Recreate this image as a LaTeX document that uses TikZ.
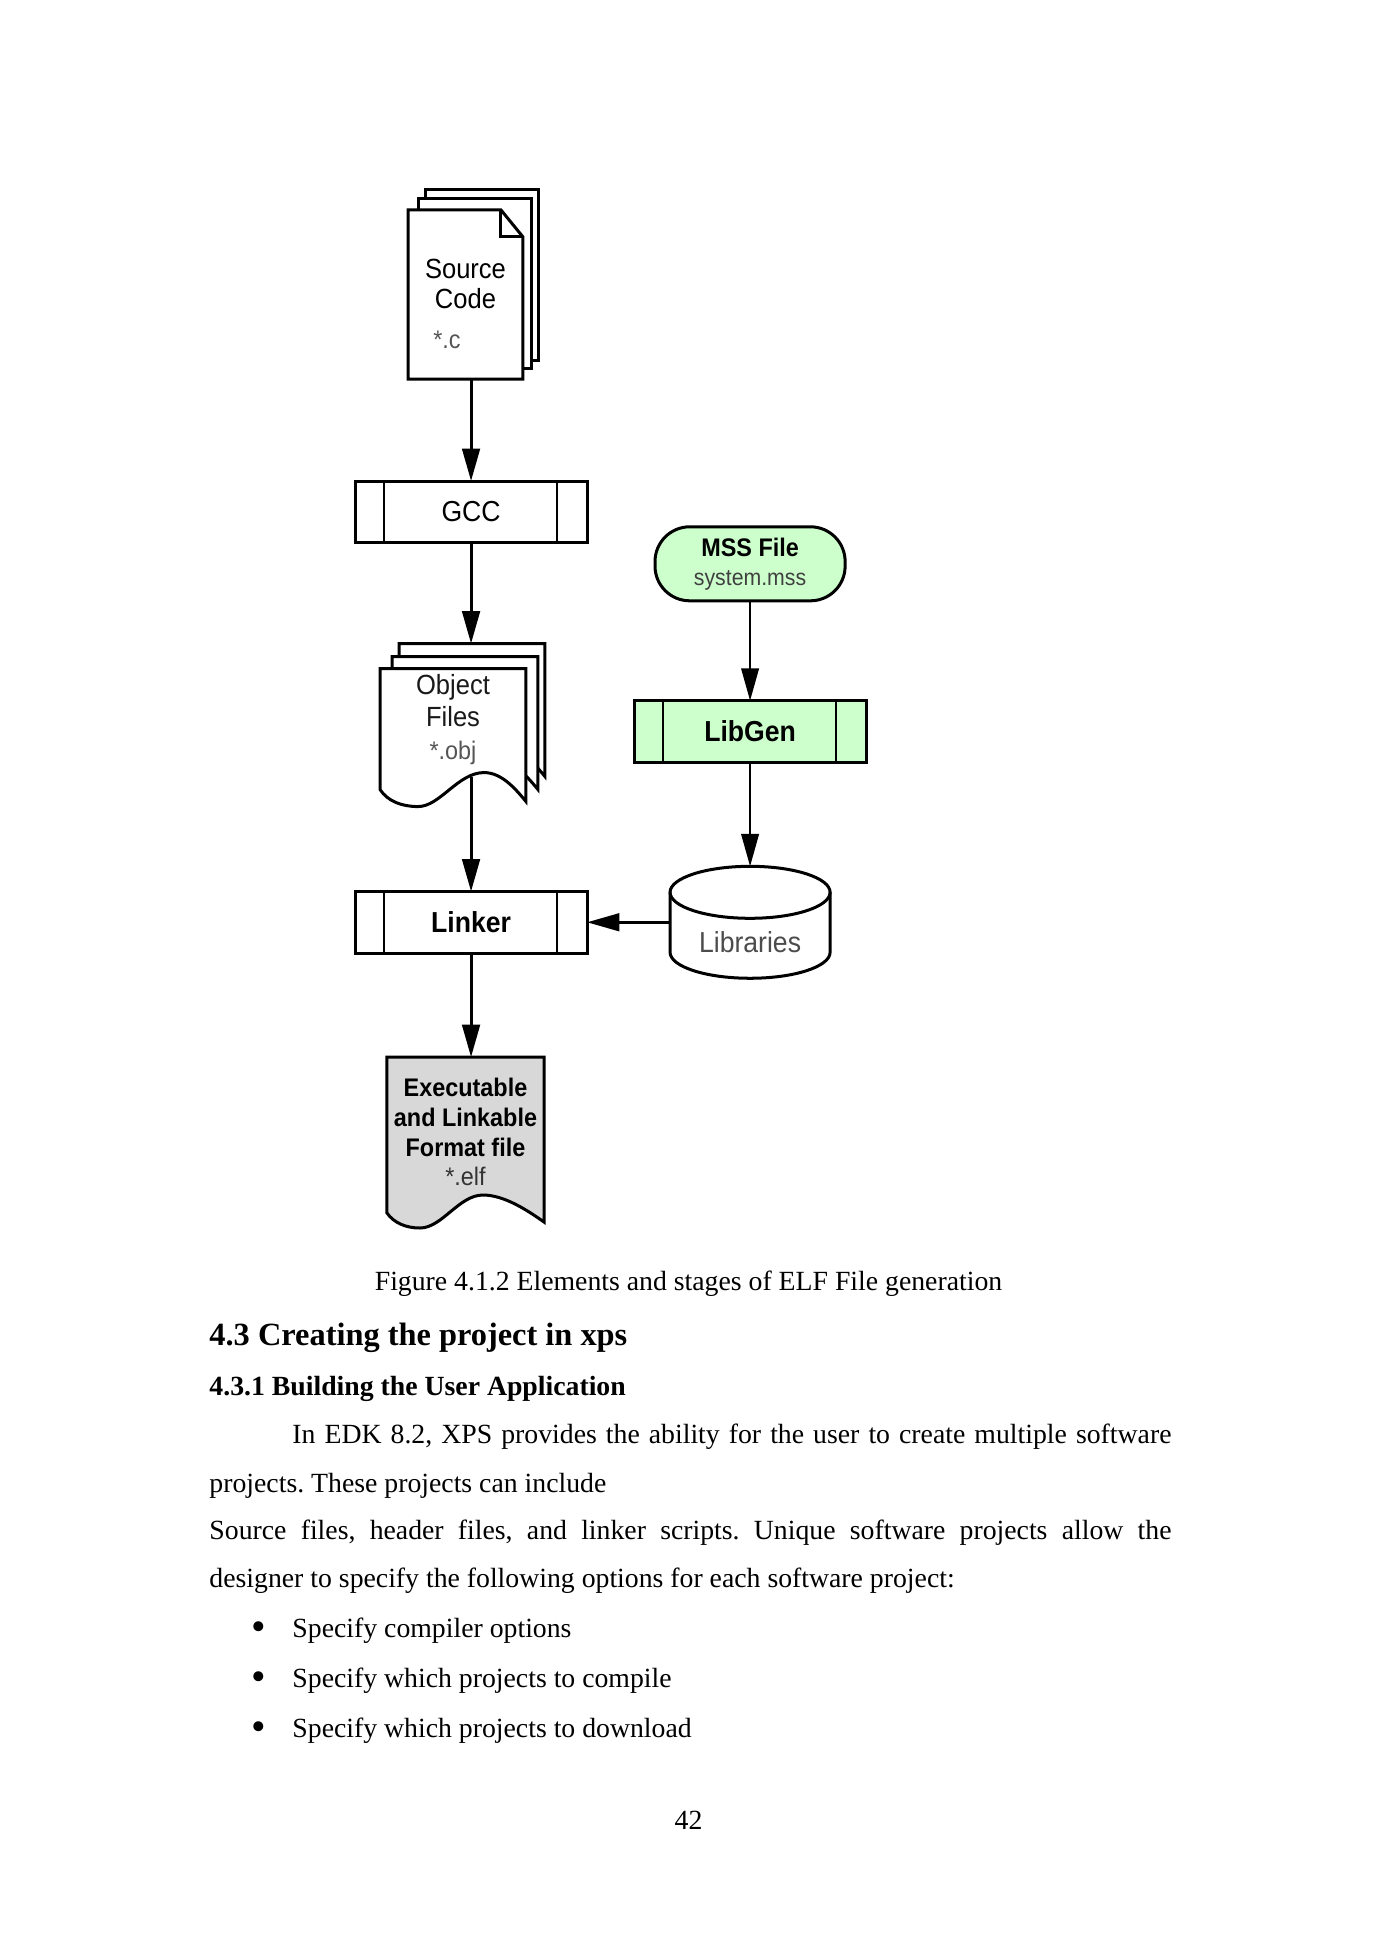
\documentclass[tikz,border=0pt]{standalone}
\usepackage{fontspec}
\setmainfont{Liberation Serif}
\newfontfamily\diagfont[FakeStretch=0.92]{Liberation Sans}
\usetikzlibrary{arrows.meta, positioning, backgrounds, calc}
\frenchspacing
\definecolor{mssgreen}{RGB}{204,255,204}
\definecolor{elfgray}{RGB}{216,216,216}
\definecolor{tagtext}{RGB}{85,85,85}
\newcommand{\sidebars}[1]{%
  \draw[barline] ($(#1.north west)+(29,0)$) -- ($(#1.south west)+(29,0)$);
  \draw[barline] ($(#1.north east)+(-30,0)$) -- ($(#1.south east)+(-30,0)$);}
\newcommand{\objpage}[2]{%
  ($(obj.north west)+(#1,#2)$) -- ($(obj.north east)+(#1,#2)$) -- ($(obj.south east)+(#1,#2-6)$)
  .. controls ($(obj.south west)+(#1+136,#2-18)$) and ($(obj.south west)+(#1+122,#2-35)$) .. ($(obj.south west)+(#1+104,#2-35)$)
  .. controls ($(obj.south west)+(#1+78,#2-35)$) and ($(obj.south west)+(#1+60,#2-1)$) .. ($(obj.south west)+(#1+38,#2-1)$)
  .. controls ($(obj.south west)+(#1+22,#2-1)$) and ($(obj.south west)+(#1+8,#2-6)$) .. ($(obj.south west)+(#1,#2-18)$) -- cycle}

\begin{document}
\begin{tikzpicture}[
    x=0.4324pt, y=-0.4324pt,
    shapebox/.style={rectangle, inner sep=0pt, outer sep=0pt},
    procbox/.style={rectangle, draw=black, fill=white, line width=1.3pt, inner sep=0pt, outer sep=0pt, minimum width=100.3pt, minimum height=26.6pt, font=\diagfont\fontsize{12.5}{14}\selectfont},
    termbox/.style={rectangle, rounded corners=15pt, draw=black, fill=mssgreen, line width=1.3pt, inner sep=0pt, outer sep=0pt, minimum width=82.2pt, minimum height=32pt, align=center, font=\diagfont\fontsize{11}{12.5}\selectfont},
    page/.style={draw=black, fill=white, line width=1.3pt},
    barline/.style={line width=1.1pt},
    arrow/.style={-{Triangle[length=14pt, width=7.6pt]}, line width=1.3pt},
    thinarrow/.style={arrow, line width=0.9pt},
    doclabel/.style={align=center, inner sep=0pt, font=\diagfont\fontsize{12}{13}\selectfont},
    bodytext/.style={anchor=base west, inner sep=0pt, font=\fontsize{12}{14}\selectfont}
]

% Page
\begin{scope}[on background layer]
  \fill[white] (0,0) rectangle (1377,1947);
\end{scope}
\useasboundingbox (0,0) rectangle (1377,1947);

% Left column: compile and link
\node[shapebox, minimum width=49.7pt, minimum height=73.1pt] (src) at (465.5,294.5) {};
\node[procbox, below=44.1pt of src, xshift=2.4pt] (gcc) {GCC};
\node[shapebox, minimum width=63.1pt, minimum height=60.1pt, below=54.5pt of gcc, xshift=-7.8pt] (obj) {};
\node[procbox, font=\diagfont\bfseries\fontsize{12.5}{14}\selectfont, below=36.3pt of obj, xshift=7.8pt] (linker) {Linker};
\node[shapebox, minimum width=67.9pt, minimum height=73.9pt, below=45pt of linker, xshift=-2.4pt] (elf) {};

% Right column: library generation
\node[shapebox, minimum width=69.2pt, minimum height=48.4pt, right=35.9pt of linker] (lib) {};
\node[procbox, fill=mssgreen, font=\diagfont\bfseries\fontsize{12.5}{14}\selectfont, above=45pt of lib] (libgen) {LibGen};
\node[termbox, above=43.2pt of libgen] (mss) {{\bfseries MSS File}\\{\fontsize{10}{12}\selectfont\color{black!75}system.mss}};

% Labels of the file shapes
\node[doclabel] (srctxt) at ([yshift=-4.1pt]src.center) {Source\\Code\\[4pt]{\fontsize{11}{13}\selectfont\color{tagtext}\makebox[0pt]{\kern-16pt*.c}}};
\node[doclabel, text=black!90, font=\diagfont\fontsize{12}{14}\selectfont] (objtxt) at ([yshift=8pt]obj.center) {Object\\Files\\{\fontsize{11}{13}\selectfont\color{tagtext}*.obj}};
\node[doclabel, font=\diagfont\bfseries\fontsize{11}{12.8}\selectfont] (elftxt) at ([yshift=4.5pt]elf.center) {Executable\\and Linkable\\Format file\\{\mdseries\color{black!80}*.elf}};
\node[doclabel, text=black!70, font=\diagfont\fontsize{12.5}{14}\selectfont] (libtxt) at ([yshift=-8.6pt]lib.center) {Libraries};

% File shapes behind the labels
\begin{scope}[on background layer]
  % source code stack
  \filldraw[page] ($(src.north west)+(17,-20)$) rectangle ($(src.south east)+(16,-19)$);
  \filldraw[page] ($(src.north west)+(10,-11)$) rectangle ($(src.south east)+(9,-11)$);
  \filldraw[page] (src.north west) -- ($(src.north east)+(-22,0)$) -- ($(src.north east)+(0,27)$) -- (src.south east) -- (src.south west) -- cycle;
  \draw[page, fill=none] ($(src.north east)+(-22,0)$) |- ($(src.north east)+(0,27)$);
  % object files stack
  \filldraw[page] \objpage{19}{-25};
  \filldraw[page] \objpage{12}{-12};
  \filldraw[page] \objpage{0}{0};
  % elf file
  \filldraw[page, fill=elfgray] (elf.north west) -- (elf.north east) -- ($(elf.south east)+(0,-6)$)
    .. controls ($(elf.south west)+(140,-18)$) and ($(elf.south west)+(117,-33)$) .. ($(elf.south west)+(96,-33)$)
    .. controls ($(elf.south west)+(72,-33)$) and ($(elf.south west)+(55,0)$) .. ($(elf.south west)+(33,0)$)
    .. controls ($(elf.south west)+(19,0)$) and ($(elf.south west)+(7,-5)$) .. ($(elf.south west)+(0,-15)$) -- cycle;
  % libraries cylinder
  \draw[page, fill=none] ($(lib.north)+(0,26)$) ellipse [x radius=34.6pt, y radius=11.24pt];
  \draw[page, fill=none] ($(lib.west)+(0,-30)$) -- ($(lib.west)+(0,30)$)
    arc[start angle=180, end angle=360, x radius=34.6pt, y radius=11.24pt] -- ($(lib.east)+(0,-30)$);
\end{scope}

% Side bars of the process boxes
\sidebars{gcc}
\sidebars{linker}
\sidebars{libgen}

% Arrows
\coordinate (objtop) at ($(obj.north)+(0,-25)$);
\coordinate (objout) at ($(obj.south west)+(91,-31)$);
\draw[arrow] (src.south -| gcc.north) -- (gcc.north);
\draw[arrow] (gcc.south) -- (gcc.south |- objtop);
\draw[arrow] (objout) -- (objout |- linker.north);
\draw[arrow] (linker.south) -- (linker.south |- elf.north);
\draw[thinarrow] (mss.south) -- (libgen.north);
\draw[thinarrow] (libgen.south) -- (lib.north);
\draw[arrow] (lib.west) -- (linker.east);

% Caption and text below the figure
\node[bodytext, anchor=base] (caption) at (688.5,1290) {Figure 4.1.2 Elements and stages of ELF File generation};
\node[bodytext, font=\bfseries\fontsize{14}{16}\selectfont] (sec) at (209,1345) {4.3 Creating the project in xps};
\node[bodytext, font=\bfseries\fontsize{12}{14}\selectfont] (subsec) at (209,1395) {4.3.1 Building the User Application};
\node[bodytext] (line1) at (292,1443) {\makebox[380.1pt][s]{In EDK 8.2, XPS provides the ability for the user to create multiple software}};
\node[bodytext] (line2) at (209,1492) {projects. These projects can include};
\node[bodytext] (line3) at (209,1539) {\makebox[416pt][s]{Source files, header files, and linker scripts. Unique software projects allow the}};
\node[bodytext] (line4) at (209,1587) {designer to specify the following options for each software project:};

% Bullet list
\foreach \ypos/\entry [count=\i] in {1637/Specify compiler options, 1687/Specify which projects to compile, 1737/Specify which projects to download} {
  \node[bodytext, anchor=base, font=\fontsize{18}{18}\selectfont] (dot\i) at (259,\ypos+3) {\textbullet};
  \node[bodytext] (item\i) at (292,\ypos) {\entry};
}

\node[bodytext, anchor=base] (pagenum) at (688.5,1829) {42};

\end{tikzpicture}
\end{document}
